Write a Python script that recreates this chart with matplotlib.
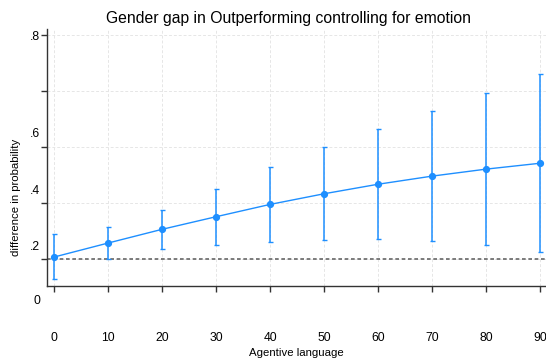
import numpy as np
import matplotlib.pyplot as plt

plt.rcParams["font.family"] = ["Liberation Sans", "DejaVu Sans"]

# =========================
# Margins: gender gap by agentive language
# =========================
agentive = [0, 10, 20, 30, 40, 50, 60, 70, 80, 90]
gap = [0.007, 0.057, 0.106, 0.151, 0.195, 0.233, 0.267, 0.296, 0.321, 0.342]
ci_lo = [-0.073, -0.001, 0.036, 0.050, 0.060, 0.067, 0.070, 0.065, 0.051, 0.026]
ci_hi = [0.088, 0.114, 0.175, 0.251, 0.329, 0.400, 0.463, 0.527, 0.592, 0.660]

ytick_pos = [0, 0.2, 0.4, 0.6, 0.8]
# labels as they appear on the original (drawn shifted from their ticks)
ylab_text = [".8", ".6", ".4", ".2", "0"]
ylab_pos = [0.793, 0.447, 0.243, 0.043, -0.150]

blue = "#1e8fff"

fig = plt.figure(figsize=(5.46, 3.63), dpi=100)
ax = fig.add_axes([0.0861, 0.2121, 0.9139, 0.7080])

x = np.array(agentive)
y = np.array(gap)
yerr = np.vstack([y - np.array(ci_lo), np.array(ci_hi) - y])

ax.errorbar(x, y, yerr=yerr, color=blue, marker="o", markersize=4.2,
            linewidth=1.0, elinewidth=1.1, capsize=1.8, capthick=1.0, zorder=3)

ax.axhline(0, color="#666666", linewidth=1.2, linestyle=(0, (2.2, 1.6)), zorder=2)

ax.set_xlim(-1.3, 91.1)
ax.set_ylim(-0.0964, 0.8214)
ax.set_xticks(agentive)
ax.set_yticks(ytick_pos)
ax.set_yticklabels([])
ax.tick_params(axis="x", length=4, width=1, color="#333333", pad=29, labelsize=8.7)
ax.tick_params(axis="y", length=4, width=1, color="#333333")

for t, p in zip(ylab_text, ylab_pos):
    ax.text(-0.014, p, t, transform=ax.get_yaxis_transform(), ha="right",
            va="center", fontsize=8.7, clip_on=False)

ax.grid(True, color="#e6e6e6", linestyle=(0, (3, 2)), linewidth=0.7)
ax.set_axisbelow(True)

for s in ["top", "right"]:
    ax.spines[s].set_visible(False)
for s in ["left", "bottom"]:
    ax.spines[s].set_color("#333333")
    ax.spines[s].set_linewidth(1.0)

ax.set_xlabel("Agentive language", fontsize=8.2)
ax.xaxis.set_label_coords(0.5, -0.243)
ax.set_ylabel("difference in probability", fontsize=8.2)
ax.yaxis.set_label_coords(-0.052, 0.346)

fig.text(289 / 546, 1 - 18 / 363, "Gender gap in Outperforming controlling for emotion",
         ha="center", va="center", fontsize=11.3)

fig.savefig("out.png", dpi=100)
